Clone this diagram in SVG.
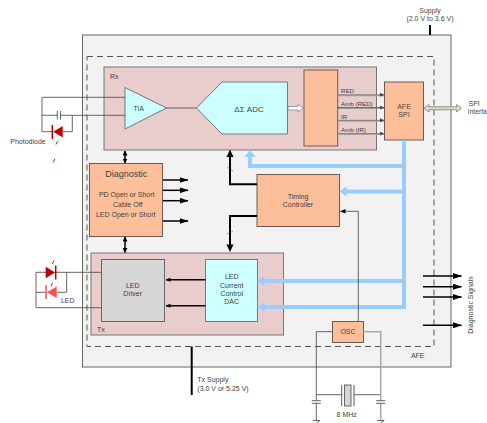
<svg xmlns="http://www.w3.org/2000/svg" width="487" height="423" viewBox="0 0 487 423">
<style>
text{font-family:"Liberation Sans",Arial,sans-serif;font-size:7px;fill:#3f3f3f;text-anchor:middle}
.s{text-anchor:start}
.o{fill:#fdbf9a;stroke:#6e5a50;stroke-width:1}
.c{fill:#ccffff;stroke:#777;stroke-width:1}
.p{fill:#e9cccc;stroke:#777;stroke-width:1}
.w{fill:none;stroke:#555;stroke-width:.9}
.k{fill:none;stroke:#000;stroke-width:1.5}
.kk{fill:none;stroke:#000;stroke-width:2}
.bl{fill:none;stroke:#99ccff;stroke-width:4}
.g{fill:none;stroke:#a8a8a8;stroke-width:1.5}
.t{fill:none;stroke:#444;stroke-width:.5}
.l{font-size:6.200px}
</style>
<defs>
<marker id="a" markerUnits="userSpaceOnUse" markerWidth="9" markerHeight="6" refX="8.500" refY="3" orient="auto"><path d="M0 0L9 3L0 6z" fill="#000"/></marker>
<marker id="d" markerUnits="userSpaceOnUse" markerWidth="5" markerHeight="5" refX="4.500" refY="2.500" orient="auto-start-reverse"><path d="M0 0L5 2.500L0 5z" fill="#000"/></marker>
<marker id="f" markerUnits="userSpaceOnUse" markerWidth="5" markerHeight="5" refX="4.500" refY="2.500" orient="auto"><path d="M0 0.500L5 2.500L0 4.500z" fill="#000"/></marker>
<marker id="t" markerUnits="userSpaceOnUse" markerWidth="4" markerHeight="4" refX="4" refY="2" orient="auto"><path d="M0 0L4 2L0 4z" fill="#444"/></marker>
</defs>
<g id="afe"><rect x="82.500" y="35" width="368.500" height="332" fill="#f2f2f2" stroke="#666"/><text x="417.700" y="357.500">AFE</text></g>
<g id="boundary"><rect x="87" y="56.500" width="347" height="290" fill="none" stroke="#555" stroke-dasharray="6 4"/></g>
<g id="rx"><rect class="p" x="104" y="67" width="272.500" height="83"/><text class="s" x="110" y="79">Rx</text></g>
<g id="tx"><rect class="p" x="91" y="253" width="192.500" height="82"/><text class="s" x="97" y="331.700">Tx</text></g>
<g id="tia"><path class="c" d="M125 87.500L125 129L166.500 108z"/><text x="138.700" y="111.300" style="font-size:6.600px">TIA</text></g>
<g id="adc"><path class="c" d="M196.500 108L222 82H287.500V134H222z"/><text x="249" y="111.500" style="font-size:8px">ΔΣ ADC</text></g>
<g id="filter"><rect class="o" x="304" y="70" width="33.700" height="76"/></g>
<g id="spi"><rect class="o" x="384.500" y="82" width="39" height="58"/><text x="404" y="109">AFE</text><text x="404" y="117">SPI</text></g>
<g id="diagnostic"><rect class="o" x="89.500" y="163.500" width="73" height="73"/><text x="126.300" y="176.700" style="font-size:9px">Diagnostic</text><text x="126.700" y="196.700">PD Open or Short</text><text x="127.700" y="206.700">Cable Off</text><text x="125.700" y="217.300">LED Open or Short</text></g>
<g id="timing"><rect class="o" x="257" y="174.500" width="82.500" height="52"/><text x="298" y="199">Timing</text><text x="298" y="207">Controller</text></g>
<g id="driver"><rect x="101.500" y="259.500" width="63" height="62" fill="#d6d6d6" stroke="#666"/><text x="132.700" y="288.300">LED</text><text x="132.700" y="295.700">Driver</text></g>
<g id="dac"><rect class="c" x="205.500" y="259.500" width="52" height="62"/><text x="231.700" y="279.300">LED</text><text x="231.700" y="287.500">Current</text><text x="231.700" y="295.500">Control</text><text x="231.700" y="304">DAC</text></g>
<g id="osc"><rect class="o" x="332.500" y="321.500" width="31" height="21"/><text x="348" y="333.500">OSC</text></g>
<g id="connectors">
<path class="w" d="M125 97.300H42V131.700H52M125 115.300H60.500M57.300 115.300H42M72.300 115.300V131.700H62.700M57.300 111V119.500M60.500 111V119.500"/>
<path class="w" d="M101.500 272.300H36V307.700H101.500M66.700 272.300V292.300H56.700M36 292.300H46"/>
<path class="w" d="M166.500 108H196.500"/>
<path d="M288 106.500H298V104.500L303.500 108.200L298 112V110H288z" fill="#fff" stroke="#888" stroke-width=".8"/>
<path class="g" d="M338 95.500H384M338 121H384M338 134.300H384"/>
<path class="g" style="stroke:#888" d="M338 108H384"/>
<path class="t" d="M338 94.800H384" marker-end="url(#t)"/>
<path class="t" d="M338 107.500H384" marker-end="url(#t)"/>
<path class="t" d="M338 120.300H384" marker-end="url(#t)"/>
<path class="t" d="M338 133.600H384" marker-end="url(#t)"/>
<path d="M424 108.300L429 104.500V106.800H456.500V104.500L461.500 108.300L456.500 112V109.800H429V112Z" fill="#ddddc8" stroke="#888" stroke-width=".9"/>
<path class="kk" d="M430 25V35"/>
<path class="kk" d="M191.700 346.500V395"/>
<path class="k" d="M125 151V163" marker-start="url(#d)" marker-end="url(#d)"/>
<path class="k" d="M125 237V252.500" marker-start="url(#d)" marker-end="url(#d)"/>
<path class="k" d="M163 180H188" marker-end="url(#a)"/>
<path class="k" d="M163 190.300H188" marker-end="url(#a)"/>
<path class="k" d="M163 200.700H188" marker-end="url(#a)"/>
<path class="k" d="M163 221H188" marker-end="url(#a)"/>
<path class="kk" d="M230 155V184.300H257M257 216H230V246"/>
<path d="M230 149.500L226.500 157H233.500zM230 252L226.500 244.500H233.500z" fill="#000"/>
<path class="t" d="M227 167L233 171M227 234L233 231"/>
<path class="k" d="M205.500 279.700H166" marker-end="url(#f)"/>
<path class="k" d="M205.500 305.700H166" marker-end="url(#f)"/>
<path class="bl" d="M404 140V307H262M404 166H250V156M404 191.500H345M404 281H262"/>
<path d="M250 150L244.500 157H255.500zM339.500 191.500L346.500 186.500V196.500zM257.500 281L264.500 276V286zM257.500 307L264.500 302V312z" fill="#99ccff"/>
<path class="w" d="M345 211.300H358.300V321.500"/>
<path d="M340 211.300L345.500 209V213.500z" fill="#000"/>
<path class="k" d="M423 276H461.500" marker-end="url(#a)"/>
<path class="k" d="M423 286.700H461.500" marker-end="url(#a)"/>
<path class="k" d="M423 297H461.500" marker-end="url(#a)"/>
<path class="k" d="M423 325.300H461.500" marker-end="url(#a)"/>
<path class="w" d="M332.500 331.700H316.300V400.700M316.300 403.300V420M316.300 394.700H341.700M354 394.700H380.700"/>
<path class="g" d="M363.500 331.700H380.700V400.700M380.700 403.300V420"/>
<path d="M341.700 385V406M354 385V406" stroke="#555" fill="none"/>
<rect x="344.500" y="385" width="6.500" height="21" fill="#d6d6d6" stroke="#666"/>
<path class="w" d="M311.800 400.700H320.800M311.800 403.300H320.800M376.200 400.700H385.200M376.200 403.300H385.200M312.800 420.500H319.800L316.300 423M377.200 420.500H384.200L380.700 423"/>
<path d="M62.700 126L53.300 131.700L62.700 137.500z" fill="#c00000"/>
<path d="M52.300 125V139" stroke="#c00000" stroke-width="1.500" fill="none"/>
<path d="M45.700 266.700V278.300L55 272.500z" fill="#c00000"/>
<path d="M55.700 265.500V279.500" stroke="#c00000" stroke-width="1.500" fill="none"/>
<path d="M56.700 286.500L47 292.300L56.700 298z" fill="#ff5050"/>
<path d="M46 285V299" stroke="#ff5050" stroke-width="1.500" fill="none"/>
<path d="M57.500 141l-1.500 3.500M54.800 159l-1.500 3.500M54 260.500l-1.500 3.500M52.500 282.800l-1.500 3.500" stroke="#d02020" fill="none"/>
</g>
<text x="28" y="144">Photodiode</text>
<text x="67.700" y="303">LED</text>
<text x="430" y="12.700">Supply</text>
<text x="430" y="20.700">(2.0 V to 3.6 V)</text>
<text class="s" x="468.500" y="106">SPI</text>
<text class="s" x="467.800" y="114" style="font-size:6.700px">Interfa</text>
<text class="s l" x="341" y="92.500">RED</text>
<text class="s l" x="341" y="105.500">Amb (RED)</text>
<text class="s l" x="341" y="118.500">IR</text>
<text class="s l" x="341" y="131.500">Amb (IR)</text>
<text class="s" x="197.300" y="382">Tx Supply</text>
<text class="s" x="197.300" y="390.700">(3.0 V or 5.25 V)</text>
<text x="346.700" y="417.300">8 MHz</text>
<text transform="translate(473 305) rotate(-90)">Diagnostic Signals</text>
</svg>
